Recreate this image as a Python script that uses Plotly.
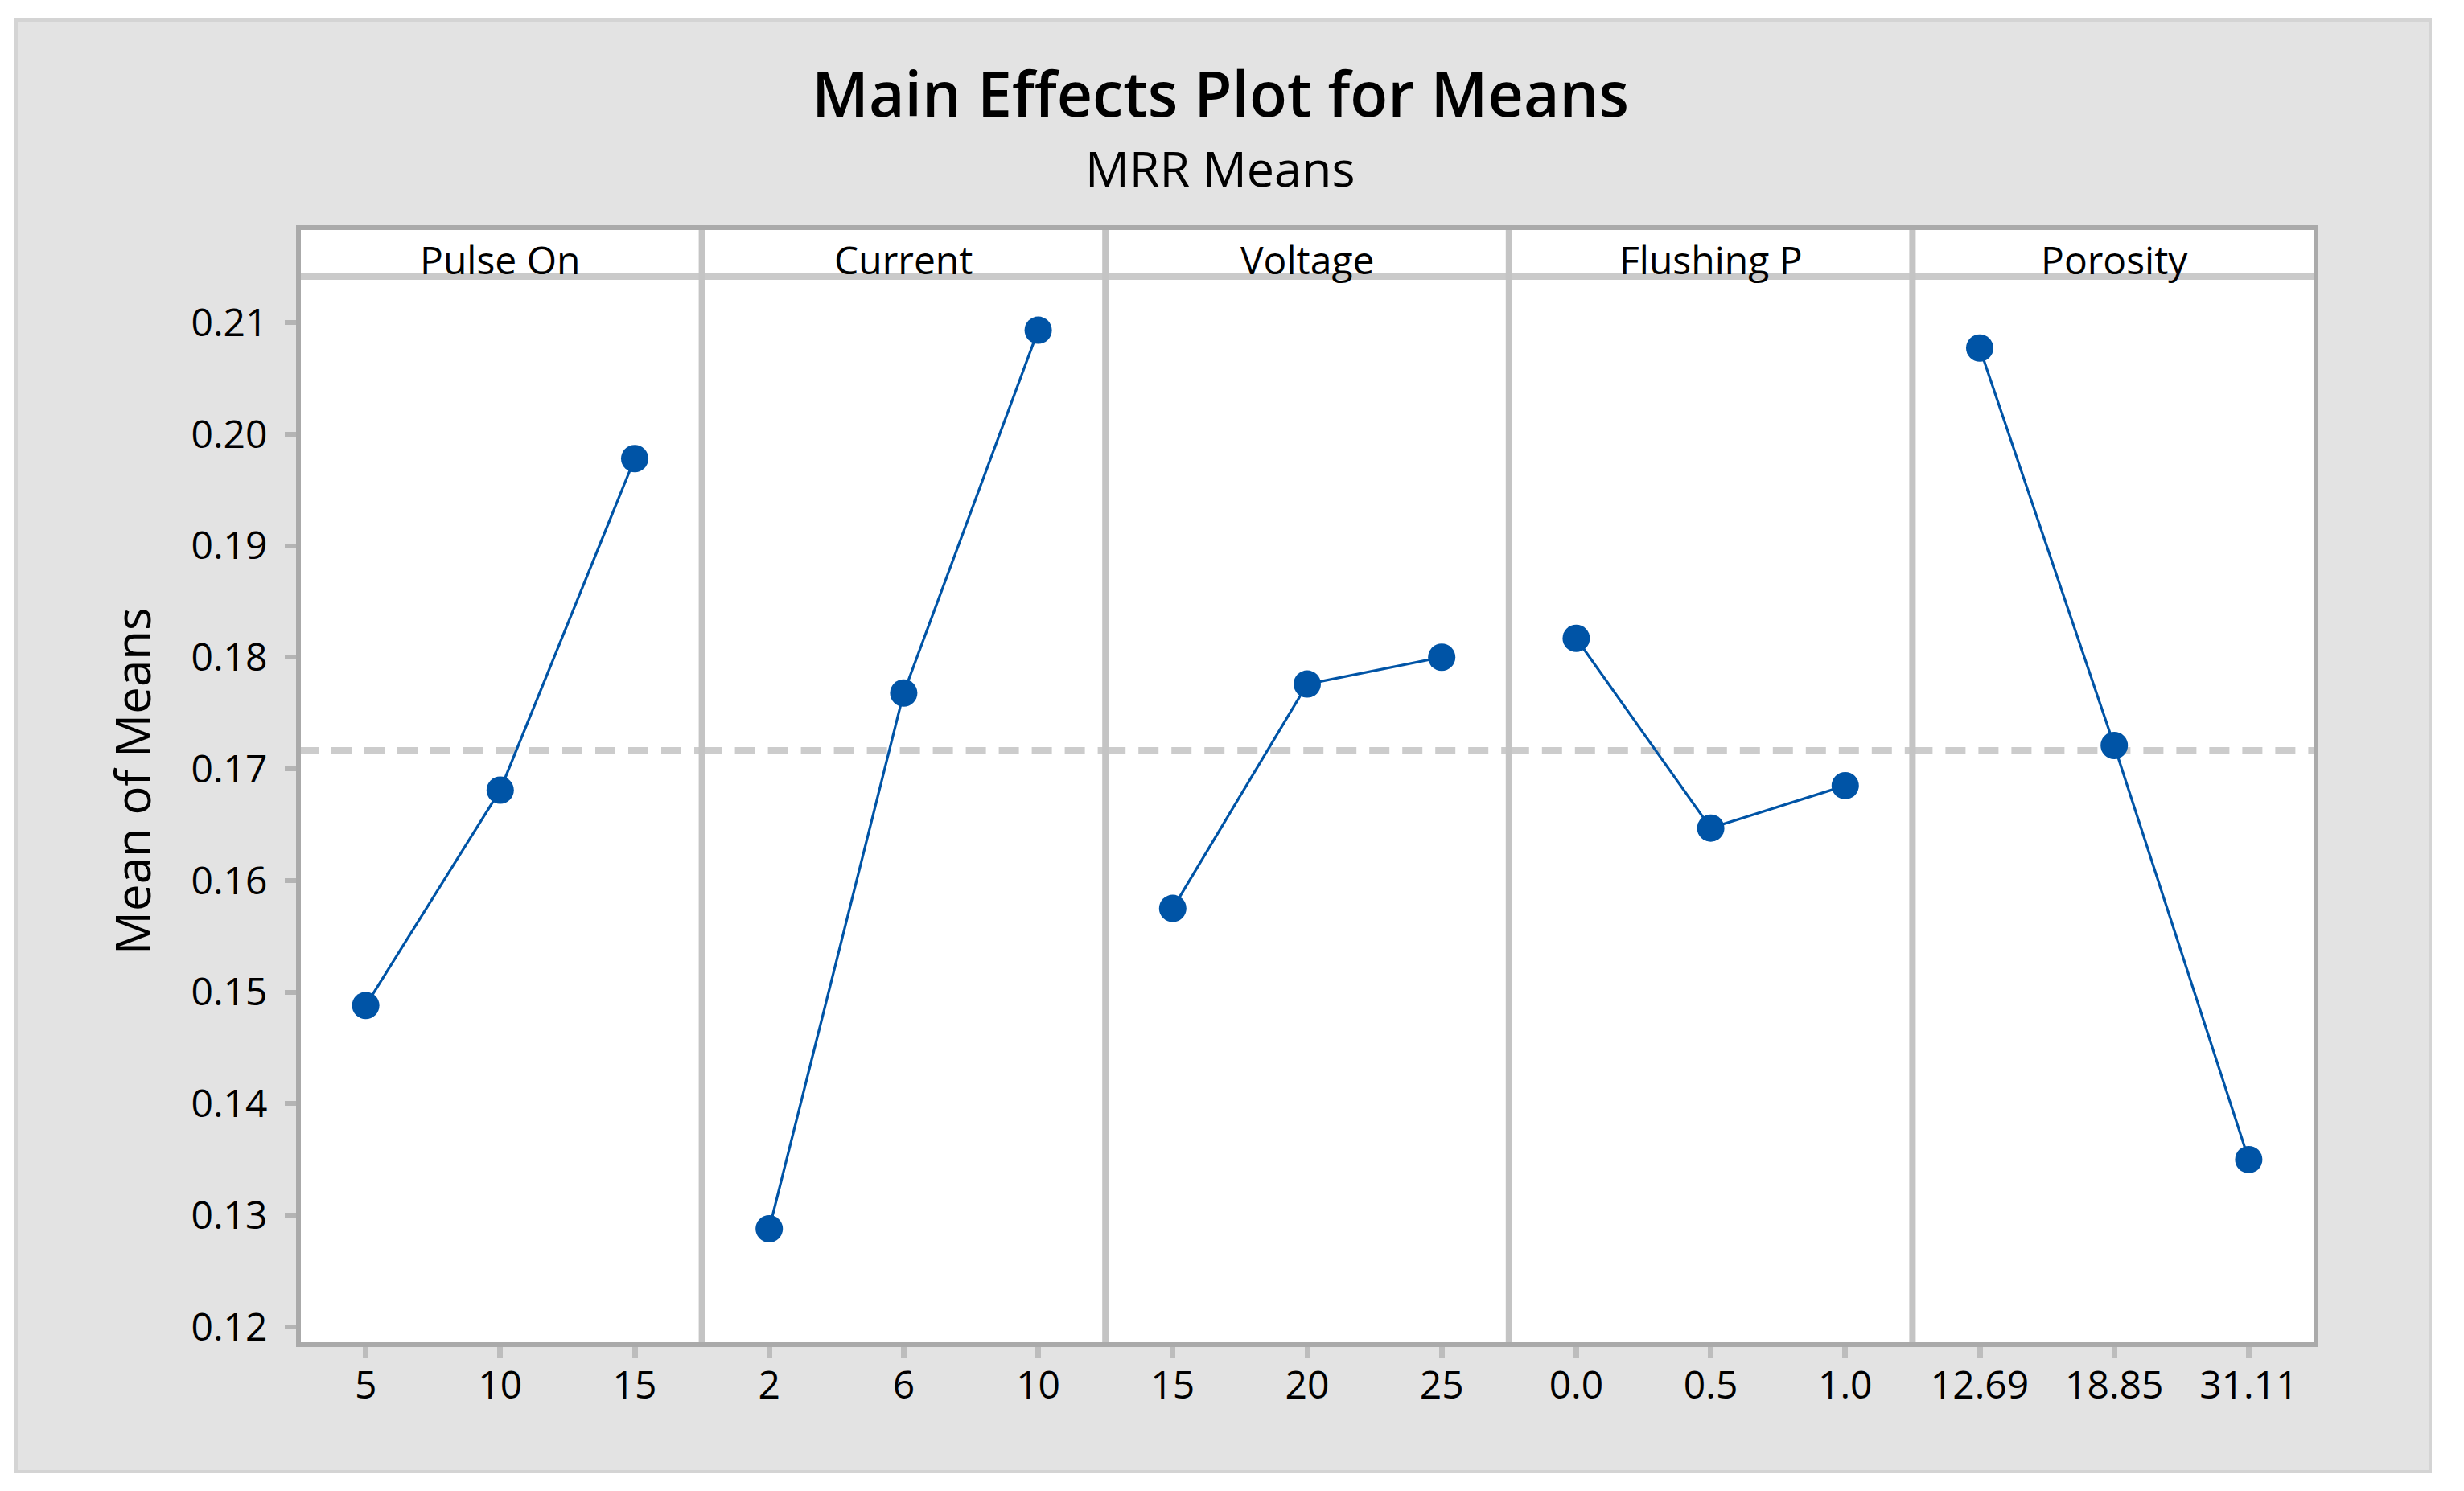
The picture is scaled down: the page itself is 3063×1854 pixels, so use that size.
import numpy as np
import plotly.graph_objects as go

# ---------------- data ----------------
factors = ["Pulse On", "Current", "Voltage", "Flushing P", "Porosity"]
pulse_on_levels = ["5", "10", "15"]
pulse_on_means = [0.1488, 0.1681, 0.1978]
current_levels = ["2", "6", "10"]
current_means = [0.1288, 0.1768, 0.2093]
voltage_levels = ["15", "20", "25"]
voltage_means = [0.1575, 0.1776, 0.1800]
flushing_levels = ["0.0", "0.5", "1.0"]
flushing_means = [0.1817, 0.1647, 0.1685]
porosity_levels = ["12.69", "18.85", "31.11"]
porosity_means = [0.2077, 0.1721, 0.1350]
y_tickvals = [0.12, 0.13, 0.14, 0.15, 0.16, 0.17, 0.18, 0.19, 0.20, 0.21]
y_ticktext = ["0.12", "0.13", "0.14", "0.15", "0.16", "0.17", "0.18", "0.19", "0.20", "0.21"]

levels = [pulse_on_levels, current_levels, voltage_levels, flushing_levels, porosity_levels]
means = [pulse_on_means, current_means, voltage_means, flushing_means, porosity_means]
grand_mean = float(np.mean(np.concatenate([np.array(m) for m in means])))

# ---------------- layout geometry ----------------
OFF = 8  # default page margin of the html body
W, H = 3063 - 2 * OFF, 1854 - 2 * OFF
L = 371 - OFF
T = 283 - OFF
R = W - (2879 - OFF)
B = H - (1672 - OFF)
PW, PH = W - L - R, H - T - B
header_px = 344 - 283
ytop = 1 - header_px / PH


def px_x(xpage):
    return (xpage - OFF - L) / PW


def px_y(ypage):
    return (H - B - (ypage - OFF)) / PH


FONT = "Open Sans"
BLUE = "#0054A6"
TICKC = "#b4b4b4"
n = len(factors)

fig = go.Figure()
layout = dict(
    width=W, height=H,
    margin=dict(l=L, r=R, t=T, b=B, pad=0),
    paper_bgcolor="white",
    plot_bgcolor="white",
    showlegend=False,
    font=dict(family=FONT, color="black"),
)

for i in range(n):
    xa = "x" if i == 0 else f"x{i+1}"
    ya = "y" if i == 0 else f"y{i+1}"
    fig.add_trace(go.Scatter(
        x=levels[i], y=means[i], xaxis=xa, yaxis=ya,
        mode="lines+markers",
        line=dict(color=BLUE, width=3.2),
        marker=dict(color=BLUE, size=34, line=dict(width=0)),
        cliponaxis=False,
    ))
    xkey = "xaxis" if i == 0 else f"xaxis{i+1}"
    ykey = "yaxis" if i == 0 else f"yaxis{i+1}"
    layout[xkey] = dict(
        domain=[i / n, (i + 1) / n], anchor=ya, type="category",
        range=[-0.5, 2.5], showgrid=False, zeroline=False, showline=False,
        ticks="outside", ticklen=16, tickwidth=7, tickcolor="#bdbdbd",
        tickfont=dict(size=48, family=FONT, color="black"),
        ticklabelstandoff=-8,
    )
    layout[ykey] = dict(
        domain=[0, ytop], anchor=xa, range=[0.11842, 0.2141],
        showgrid=False, zeroline=False, showline=False,
        tickvals=y_tickvals, ticktext=y_ticktext,
        showticklabels=(i == 0),
        ticks="outside" if i == 0 else "",
        ticklen=16, tickwidth=6, tickcolor=TICKC,
        tickfont=dict(size=48, family=FONT, color="black"),
        ticklabelstandoff=12,
    )
    if i > 0:
        layout[ykey]["matches"] = "y"

shapes = []
# outer gray panel
shapes.append(dict(type="rect", xref="paper", yref="paper", layer="below",
                   x0=px_x(20), x1=px_x(3021), y0=px_y(1830), y1=px_y(25),
                   fillcolor="#e3e3e3", line=dict(color="#d4d4d4", width=4)))
# white plotting box
shapes.append(dict(type="rect", xref="paper", yref="paper", layer="below",
                   x0=0, x1=1, y0=0, y1=1, fillcolor="white", line=dict(width=0)))
# grand mean dashed reference line in each panel
for i in range(n):
    xa = "x" if i == 0 else f"x{i+1}"
    ya = "y" if i == 0 else f"y{i+1}"
    shapes.append(dict(type="line", xref=f"{xa} domain", yref=ya,
                       x0=0, x1=1, y0=grand_mean, y1=grand_mean, layer="below",
                       line=dict(color="#cccccc", width=9, dash="25px,16px")))
# header bottom line
shapes.append(dict(type="line", xref="paper", yref="paper", x0=0, x1=1,
                   y0=ytop, y1=ytop, line=dict(color="#cacaca", width=8)))
# panel dividers
for i in range(1, n):
    shapes.append(dict(type="line", xref="paper", yref="paper", x0=i / n, x1=i / n,
                       y0=0, y1=1, line=dict(color="#c4c4c4", width=8)))
# outer frame
shapes.append(dict(type="rect", xref="paper", yref="paper", x0=0, x1=1, y0=0, y1=1,
                   line=dict(color="#aaaaaa", width=6)))
layout["shapes"] = shapes

annotations = []
for i, f in enumerate(factors):
    annotations.append(dict(text=f, xref="paper", yref="paper",
                            x=(i + 0.5) / n, y=ytop, xanchor="center", yanchor="bottom",
                            yshift=-13, showarrow=False,
                            font=dict(size=48, family=FONT, color="black")))
annotations.append(dict(text="Main Effects Plot for Means", xref="paper", yref="paper",
                        x=px_x(1517), y=px_y(116), xanchor="center", yanchor="middle",
                        showarrow=False,
                        font=dict(size=77, family=FONT, color="black", weight=600)))
annotations.append(dict(text="MRR Means", xref="paper", yref="paper",
                        x=px_x(1517), y=px_y(209), xanchor="center", yanchor="middle",
                        showarrow=False, font=dict(size=61, family=FONT, color="black")))
annotations.append(dict(text="Mean of Means", xref="paper", yref="paper",
                        x=px_x(164), y=px_y(971), xanchor="center", yanchor="middle",
                        textangle=-90, showarrow=False,
                        font=dict(size=60, family=FONT, color="black")))
layout["annotations"] = annotations

fig.update_layout(**layout)
fig.write_html("out.html")
